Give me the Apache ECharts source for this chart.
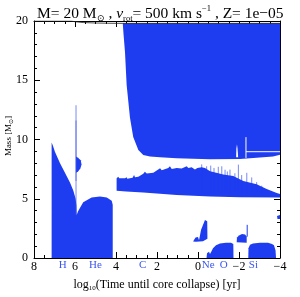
<!DOCTYPE html>
<html><head><meta charset="utf-8">
<script src="https://cdn.jsdelivr.net/npm/echarts@6/dist/echarts.min.js"></script>
<style>html,body{margin:0;padding:0;background:#fff}#c{width:300px;height:297px}</style>
</head><body><div id="c"></div>
<script>
// ---- data (t = log10 time until core collapse [yr], M = mass [Msun]) ----
const xTicks = [-4, -2, 0, 2, 4, 6, 8];
const yTicks = [0, 5, 10, 15, 20];
const phaseNames = ['H', 'He', 'C', 'Ne', 'O', 'Si'];
const phaseT = [6.6, 5.0, 2.7, -0.5, -1.25, -2.7];

const massLine = [[8,20],[6.2,20],[6.0,19.94],[5.6,19.87],[5.0,19.83],[4.4,19.81],[3.7,19.8],[-4,19.8]];

const hHeCore = [[7.14,0],[7.14,9.75],[7.08,9.5],[6.98,8.97],[6.73,8.0],[6.49,7.19],[6.24,6.36],[6.08,5.68],[5.97,5.0],[5.93,4.44],[5.92,3.62],[5.85,3.95],[5.6,4.7],[5.19,5.1],[4.78,5.2],[4.45,5.1],[4.21,4.84],[4.16,4.5],[4.16,0]];

const envelope = [[3.67,19.81],[3.63,18.85],[3.56,17.34],[3.48,14.59],[3.32,11.85],[3.16,10.21],[2.91,9.11],[2.67,8.70],[2.34,8.56],[1.85,8.50],[1.04,8.42],[-0.59,8.34],[-2.05,8.35],[-3.66,8.56],[-4,8.72],[-4,19.81]];

const shellTop = [[3.97,6.72],[3.89,6.86],[3.84,6.72],[3.56,6.72],[3.48,6.81],[3.45,6.69],[3.19,6.77],[3.12,7.00],[3.07,6.81],[2.91,6.86],[2.67,7.10],[2.59,7.27],[2.50,7.14],[2.18,7.19],[1.94,7.47],[1.85,7.57],[1.77,7.41],[1.45,7.60],[1.37,7.74],[1.28,7.51],[1.04,7.60],[0.80,7.55],[0.55,7.74],[0.47,7.60],[0.31,7.65],[0.15,7.47],[0.03,7.60],[-0.18,7.65],[-0.34,7.60],[-0.59,7.33],[-1.23,7.05],[-1.72,6.91],[-2.21,6.50],[-2.86,6.23],[-3.35,5.82],[-3.84,5.49],[-4,5.41]];
const shellBottom = [[3.97,5.68],[3.5,5.62],[2.67,5.52],[1.85,5.42],[1.04,5.32],[-0.59,5.2],[-2.05,5.13],[-4,5.1]];

const spikeT = [-0.18,-0.42,-0.62,-0.78,-0.99,-1.16,-1.32,-1.43,-1.56,-1.80,-1.97,-2.13,-2.38,-2.62,-2.86,-3.11];
const spikeM = [7.9,7.74,7.8,7.6,7.7,7.74,7.45,7.3,7.46,7.15,7.88,7.0,7.19,6.8,6.4,6.1];

const hLine = [[5.95,3.6],[5.95,12.9]];
const hLineDark = [[5.95,6.5],[5.95,11.6]];
const hBlob = [[5.95,7.19],[5.85,7.3],[5.74,7.55],[5.68,7.9],[5.72,8.25],[5.85,8.45],[5.95,8.56]];

const neShell = [[0.24,1.40],[0.12,1.72],[0.0,1.78],[-0.05,1.5],[-0.15,2.39],[-0.34,3.21],[-0.45,3.10],[-0.46,1.62],[-0.24,1.42],[0.1,1.38]];
const oCore = [[-0.415,0],[-0.44,0.41],[-0.537,0.53],[-0.585,0.33],[-0.634,0.49],[-0.732,0.82],[-0.878,1.07],[-1.073,1.23],[-1.366,1.29],[-1.61,1.28],[-1.722,1.19],[-1.732,0]];
const oShell = [[-1.888,1.32],[-1.902,1.73],[-2.0,1.89],[-2.146,2.02],[-2.293,1.98],[-2.376,1.81],[-2.376,1.29]];
const oSpike = [[-2.40,1.8],[-2.40,2.8]];
const siCore = [[-2.454,0],[-2.463,0.82],[-2.537,1.11],[-2.683,1.23],[-3.024,1.28],[-3.415,1.28],[-3.61,1.19],[-3.707,1.07],[-3.78,0.66],[-3.805,0]];
const siShell = [[-3.854,3.54],[-4,3.62],[-4,3.29],[-3.878,3.29]];

const envGapA = [[-1.86,8.5],[-1.87,9.2],[-1.9,9.6],[-1.93,9.2],[-1.96,8.5]];
const envGapLine = [[-2.34,8.97],[-4,8.97]];
const envGapLine2 = [[-2.34,8.45],[-2.34,10.2]];

// ---- rendering ----
const BLUE = '#1e3cf0';
const SERIF = 'Liberation Serif';
const fmt = v => String(v).replace('-', '\u2212');

function polySeries(pts, fill, z) {
  return {
    type: 'custom', data: pts, silent: true, z: z || 2,
    renderItem: (p, api) => p.dataIndex === 0 ? {
      type: 'polygon',
      shape: { points: pts.map(q => api.coord(q)) },
      style: { fill: fill }
    } : null
  };
}
function lineSeries(pts, color, w, z) {
  return { type: 'line', data: pts, symbol: 'none', silent: true, z: z || 3,
    lineStyle: { color: color, width: w }, animation: false };
}

const shellPoly = shellTop.concat(shellBottom.slice().reverse());

const axisLine = { show: true, onZero: false, lineStyle: { color: '#000', width: 1 } };
const axisTick = { show: true, inside: true, length: 6, lineStyle: { color: '#000', width: 1 } };
const minorX = { show: true, splitNumber: 4, length: 3, lineStyle: { color: '#000' } };
const minorY = { show: true, splitNumber: 5, length: 3, lineStyle: { color: '#000' } };

const option = {
  animation: false,
  grid: { left: 34, right: 20, top: 21, bottom: 33 },
  title: {
    text: '{a|M= 20 M}{sub|\u2299}{a| , }{i|v}{sub|rot}{a|= 500 km s}{sup|\u22121}{a| , Z= 1e\u221205}',
    left: 32, top: -1,
    textStyle: { fontWeight: 'normal', rich: {
      a: { fontFamily: SERIF, fontSize: 15.5, fontWeight: 'normal', color: '#000', lineHeight: 19 },
      i: { fontFamily: SERIF, fontSize: 15.5, fontWeight: 'normal', fontStyle: 'italic', color: '#000', lineHeight: 19 },
      sub: { fontFamily: SERIF, fontSize: 8.5, fontWeight: 'normal', color: '#000', lineHeight: 9, verticalAlign: 'bottom' },
      sup: { fontFamily: SERIF, fontSize: 8.5, fontWeight: 'normal', color: '#000', lineHeight: 9, verticalAlign: 'top' }
    } }
  },
  xAxis: [
    {
      type: 'value', min: -4, max: 8, interval: 2, inverse: true, position: 'bottom',
      axisLine: axisLine, axisTick: axisTick, splitLine: { show: false }, minorTick: minorX,
      axisLabel: { show: true, formatter: fmt, fontFamily: SERIF, fontSize: 12, color: '#000', margin: 3 },
      name: '{a|log}{sub|10}{a|(Time until core collapse) [yr]}',
      nameLocation: 'middle', nameGap: 20,
      nameTextStyle: { rich: {
        a: { fontFamily: SERIF, fontSize: 12, color: '#000', lineHeight: 14 },
        sub: { fontFamily: SERIF, fontSize: 7, color: '#000', lineHeight: 7, verticalAlign: 'bottom' }
      } }
    },
    {
      type: 'value', min: -4, max: 8, interval: 2, inverse: true, position: 'top',
      axisLine: axisLine, axisTick: axisTick, splitLine: { show: false }, minorTick: minorX,
      axisLabel: { show: false }
    }
  ],
  yAxis: [
    {
      type: 'value', min: 0, max: 20, interval: 5, position: 'left',
      axisLine: axisLine, axisTick: axisTick, splitLine: { show: false }, minorTick: minorY,
      axisLabel: { show: true, fontFamily: SERIF, fontSize: 12, color: '#000', margin: 6 }
    },
    {
      type: 'value', min: 0, max: 20, interval: 5, position: 'right',
      axisLine: axisLine, axisTick: axisTick, splitLine: { show: false }, minorTick: minorY,
      axisLabel: { show: false }
    }
  ],
  graphic: [{
    type: 'text', x: 9, y: 136, rotation: Math.PI / 2,
    style: {
      text: '{a|Mass [M}{sub|\u2299}{a|]}',
      align: 'center', verticalAlign: 'middle',
      rich: {
        a: { fontFamily: SERIF, fontSize: 9, fill: '#000', lineHeight: 11 },
        sub: { fontFamily: SERIF, fontSize: 6, fill: '#000', lineHeight: 6, verticalAlign: 'bottom' }
      }
    }
  }],
  series: [
    polySeries(envelope, BLUE, 2),
    polySeries(envGapA, '#fff', 3),
    lineSeries(envGapLine, '#fff', 1, 3),
    lineSeries(envGapLine2, '#fff', 1, 3),
    polySeries(shellPoly, BLUE, 2),
    {
      type: 'custom', silent: true, z: 2,
      data: spikeT.map((t, i) => [t, spikeM[i]]),
      renderItem: (p, api) => {
        const a = api.coord([api.value(0), 5.5]);
        const b = api.coord([api.value(0), api.value(1)]);
        return { type: 'line', shape: { x1: a[0], y1: a[1], x2: b[0], y2: b[1] },
          style: { stroke: 'rgba(30,60,240,0.6)', lineWidth: 1 } };
      }
    },
    polySeries(hHeCore, BLUE, 2),
    lineSeries(hLine, 'rgba(60,80,235,0.45)', 1.5, 3),
    lineSeries(hLineDark, 'rgba(60,80,235,0.5)', 1.2, 3),
    polySeries(hBlob, BLUE, 2),
    polySeries(neShell, BLUE, 2),
    polySeries(oCore, BLUE, 2),
    polySeries(oShell, BLUE, 2),
    lineSeries(oSpike, BLUE, 1, 3),
    polySeries(siCore, BLUE, 2),
    polySeries(siShell, BLUE, 2),
    lineSeries(massLine, '#222', 0.8, 4),
    {
      type: 'custom', silent: true, z: 5, clip: false,
      data: phaseT.map((t, i) => [t, 0, i]),
      renderItem: (p, api) => {
        const c = api.coord([api.value(0), 0]);
        return { type: 'text', x: c[0], y: c[1] + 7,
          style: { text: phaseNames[api.value(2)], fill: '#3a55f0',
            font: '11px "Liberation Serif"', align: 'center', verticalAlign: 'middle' } };
      }
    }
  ]
};
const chart = echarts.init(document.getElementById('c'), null, { renderer: 'canvas' });
chart.setOption(option);
</script>
</body></html>
